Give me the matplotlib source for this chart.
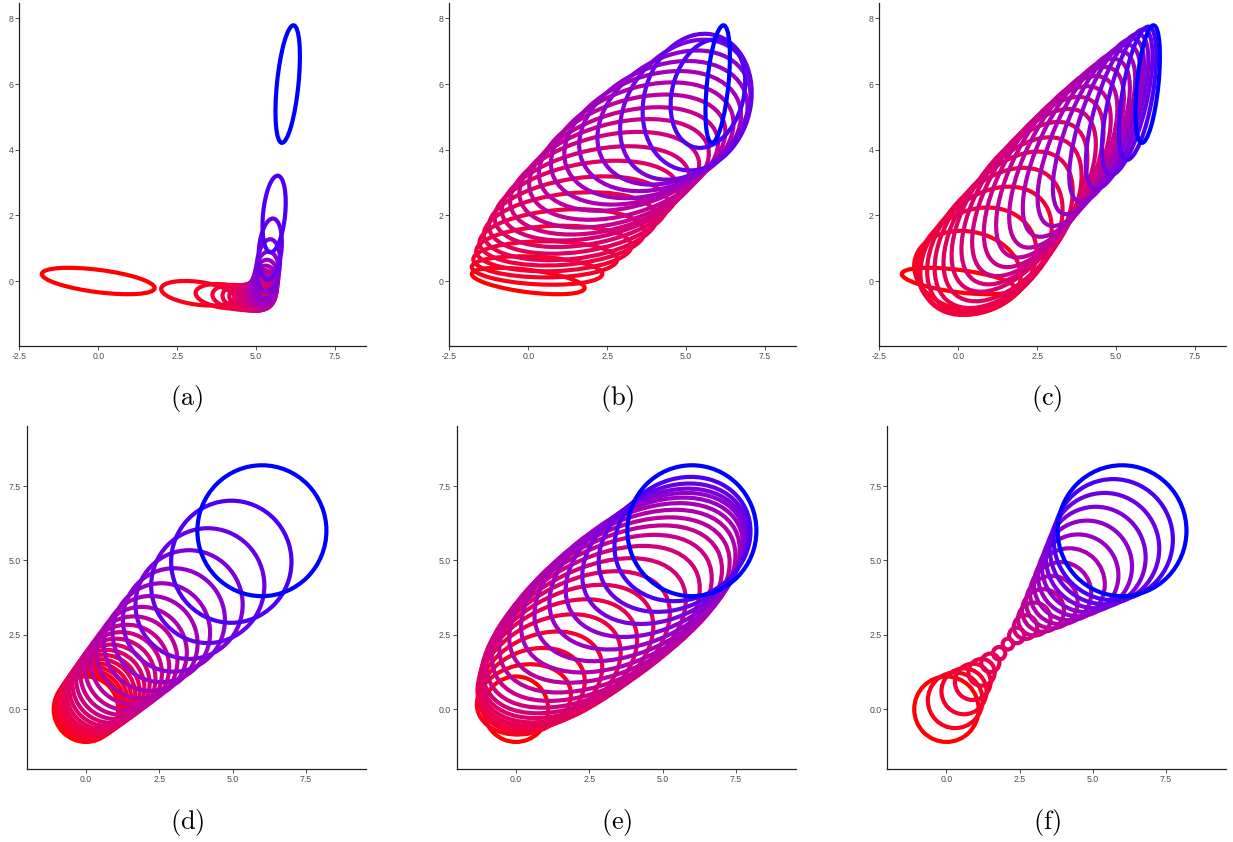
import numpy as np
import matplotlib
matplotlib.use("Agg")
import matplotlib.pyplot as plt
from matplotlib.patches import Ellipse

plt.rcParams['mathtext.fontset'] = 'cm'

# ---------------- data ----------------
# each panel: 21 Gaussians drawn as ellipses (centre, semi-axes, angle in degrees)

# (a)
a_cx = [0.000, 3.158, 4.013, 4.411, 4.642, 4.794, 4.901, 4.982, 5.045, 5.096, 5.140,
        5.177, 5.210, 5.241, 5.272, 5.303, 5.339, 5.383, 5.447, 5.570, 6.000]
a_cy = [0.000, -0.373, -0.464, -0.497, -0.508, -0.507, -0.498, -0.482, -0.460, -0.432, -0.396,
        -0.351, -0.295, -0.222, -0.127, 0.003, 0.189, 0.475, 0.972, 2.040, 6.000]
a_major = [1.800, 1.174, 0.936, 0.801, 0.711, 0.646, 0.597, 0.557, 0.524, 0.497, 0.476,
           0.497, 0.524, 0.557, 0.597, 0.646, 0.711, 0.801, 0.936, 1.174, 1.800]
a_minor = [0.340, 0.349, 0.358, 0.368, 0.378, 0.390, 0.403, 0.418, 0.434, 0.452, 0.469,
           0.452, 0.434, 0.418, 0.403, 0.390, 0.378, 0.368, 0.358, 0.349, 0.340]
a_angle = [-7.0, -7.05, -7.1, -7.2, -7.3, -7.5, -7.7, -8.2, -9.0, -11.5, -51.3,
           88.5, 86.0, 85.2, 84.8, 84.5, 84.3, 84.2, 84.1, 84.06, 84.0]

# (b)
b_cx = [0.00, 0.28, 0.54, 0.81, 1.07, 1.33, 1.59, 1.85, 2.13, 2.42, 2.72,
        3.02, 3.29, 3.61, 3.94, 4.28, 4.62, 4.98, 5.35, 5.69, 6.00]
b_cy = [0.00, 0.32, 0.66, 0.99, 1.33, 1.67, 2.01, 2.35, 2.67, 2.98, 3.28,
        3.58, 3.91, 4.19, 4.46, 4.72, 4.98, 5.22, 5.45, 5.71, 6.00]
b_major = [1.80, 2.07, 2.28, 2.46, 2.62, 2.75, 2.86, 2.95, 3.02, 3.06, 3.08,
           3.08, 3.05, 2.99, 2.90, 2.78, 2.60, 2.38, 2.12, 1.69, 1.80]
b_minor = [0.34, 0.42, 0.55, 0.69, 0.84, 1.00, 1.12, 1.23, 1.32, 1.43, 1.50,
           1.55, 1.60, 1.70, 1.78, 1.82, 1.82, 1.78, 1.68, 1.13, 0.34]
b_angle = [-7.0, -3.0, 0.0, 2.0, 4.0, 6.0, 8.0, 10.0, 12.0, 13.5, 15.0,
           16.0, 17.0, 18.0, 19.5, 22.0, 30.0, 48.0, 72.0, 74.0, 84.0]

# (c)
c_cx = [0.00, 0.29, 0.59, 0.88, 1.16, 1.44, 1.72, 1.94, 2.23, 2.52, 2.82,
        3.12, 3.43, 3.74, 4.06, 4.38, 4.70, 5.03, 5.35, 5.68, 6.00]
c_cy = [0.00, 0.31, 0.61, 0.92, 1.24, 1.56, 1.88, 2.26, 2.57, 2.88, 3.18,
        3.48, 3.77, 4.06, 4.34, 4.62, 4.90, 5.17, 5.45, 5.72, 6.00]
c_major = [1.80, 1.70, 1.95, 2.35, 2.60, 2.80, 2.92, 3.00, 3.08, 3.12, 3.12,
           3.10, 3.06, 2.99, 2.90, 2.78, 2.63, 2.46, 2.28, 2.06, 1.80]
c_minor = [0.34, 1.20, 1.55, 1.62, 1.65, 1.62, 1.58, 1.52, 1.48, 1.43, 1.38,
           1.31, 1.23, 1.14, 1.04, 0.93, 0.82, 0.71, 0.60, 0.48, 0.34]
c_angle = [-7.0, -10.0, 25.0, 40.0, 47.0, 50.0, 52.0, 54.0, 55.5, 57.0, 58.5,
           60.0, 61.5, 63.0, 65.0, 67.0, 70.0, 73.0, 76.0, 80.0, 84.0]

# (d) circles
d_cx = [0.000, 0.078, 0.162, 0.254, 0.353, 0.462, 0.581, 0.712, 0.857, 1.019, 1.200,
        1.404, 1.637, 1.903, 2.211, 2.571, 3.000, 3.517, 4.154, 4.957, 6.000]
d_cy = d_cx
d_r = [1.100, 1.121, 1.144, 1.168, 1.193, 1.220, 1.250, 1.281, 1.315, 1.352, 1.391,
       1.435, 1.483, 1.537, 1.596, 1.663, 1.739, 1.827, 1.930, 2.052, 2.200]

# (e)
e_cx = [0.00, 0.27, 0.55, 0.84, 1.13, 1.43, 1.73, 2.03, 2.33, 2.63, 2.93,
        3.23, 3.53, 3.83, 4.13, 4.44, 4.75, 5.06, 5.37, 5.68, 6.00]
e_cy = [0.00, 0.33, 0.65, 0.96, 1.27, 1.57, 1.87, 2.17, 2.47, 2.77, 3.07,
        3.37, 3.67, 3.97, 4.27, 4.56, 4.85, 5.14, 5.43, 5.72, 6.00]
e_major = [1.10, 1.62, 1.85, 2.20, 2.60, 2.90, 3.20, 3.50, 3.78, 3.98, 4.10,
           4.14, 4.08, 3.96, 3.78, 3.55, 3.27, 2.96, 2.66, 2.38, 2.20]
e_minor = [1.10, 1.16, 1.34, 1.52, 1.70, 1.85, 1.96, 2.05, 2.12, 2.19, 2.24,
           2.27, 2.28, 2.27, 2.24, 2.19, 2.12, 2.06, 2.02, 2.02, 2.20]
e_angle = [0.0, 12.0, 20.0, 24.0, 27.0, 28.0, 29.0, 29.0, 29.0, 29.0, 29.0,
           28.5, 28.0, 28.0, 28.0, 28.0, 28.0, 27.0, 26.0, 25.0, 0.0]

# (f) circles
f_cx = [0.0, 0.3, 0.6, 0.9, 1.2, 1.5, 1.8, 2.1, 2.4, 2.7, 3.0,
        3.3, 3.6, 3.9, 4.2, 4.5, 4.8, 5.1, 5.4, 5.7, 6.0]
f_cy = [0.0, 0.3, 0.6, 0.92, 1.24, 1.56, 1.88, 2.19, 2.48, 2.76, 3.03,
        3.32, 3.6, 3.9, 4.2, 4.5, 4.8, 5.1, 5.4, 5.7, 6.0]
f_r = [1.100, 0.935, 0.770, 0.610, 0.450, 0.310, 0.210, 0.180, 0.260, 0.400, 0.555,
       0.715, 0.880, 1.045, 1.210, 1.375, 1.540, 1.705, 1.870, 2.035, 2.200]

panel_labels = ["(a)", "(b)", "(c)", "(d)", "(e)", "(f)"]
top_xticks = [-2.5, 0.0, 2.5, 5.0, 7.5]
top_xlabels = ["-2.5", "0.0", "2.5", "5.0", "7.5"]
top_yticks = [0, 2, 4, 6, 8]
top_ylabels = ["0", "2", "4", "6", "8"]
bot_ticks = [0.0, 2.5, 5.0, 7.5]
bot_labels = ["0.0", "2.5", "5.0", "7.5"]

# ---------------- colours: ggplot-like Lab gradient red -> blue ----------------
_M = np.array([[0.4124564, 0.3575761, 0.1804375],
               [0.2126729, 0.7151522, 0.0721750],
               [0.0193339, 0.1191920, 0.9503041]])
_W = np.array([0.95047, 1.0, 1.08883])


def _to_lin(c):
    c = np.asarray(c, float)
    return np.where(c <= 0.04045, c / 12.92, ((c + 0.055) / 1.055) ** 2.4)


def _to_srgb(c):
    c = np.clip(c, 0, None)
    return np.where(c <= 0.0031308, 12.92 * c, 1.055 * c ** (1 / 2.4) - 0.055)


def rgb2lab(rgb):
    xyz = _M @ _to_lin(rgb) / _W
    d = 6 / 29
    f = np.where(xyz > d ** 3, np.cbrt(xyz), xyz / (3 * d * d) + 4 / 29)
    return np.array([116 * f[1] - 16, 500 * (f[0] - f[1]), 200 * (f[1] - f[2])])


def lab2rgb(lab):
    L, a, b = lab
    fy = (L + 16) / 116
    f = np.array([fy + a / 500, fy, fy - b / 200])
    d = 6 / 29
    xyz = np.where(f > d, f ** 3, 3 * d * d * (f - 4 / 29)) * _W
    rgb = np.linalg.solve(_M, xyz)
    return tuple(np.clip(_to_srgb(rgb), 0, 1))


LAB_RED = rgb2lab([1, 0, 0])
LAB_BLUE = rgb2lab([0, 0, 1])


def grad(n):
    return [lab2rgb((1 - s) * LAB_RED + s * LAB_BLUE) for s in np.linspace(0, 1, n)]


# ---------------- figure ----------------
W, H = 1233, 842
fig = plt.figure(figsize=(W / 100, H / 100), dpi=100)
fig.patch.set_facecolor("white")

LW = 3.0


def style(ax):
    for s in ("top", "right"):
        ax.spines[s].set_visible(False)
    for s in ("left", "bottom"):
        ax.spines[s].set_linewidth(0.9)
        ax.spines[s].set_color("#222222")
    ax.tick_params(axis="both", length=2.6, width=0.6, color="#333333",
                   labelsize=6.3, labelcolor="#4D4D4D", pad=1.5)
    for lab in ax.get_xticklabels() + ax.get_yticklabels():
        lab.set_fontfamily("Liberation Sans")


def add_axes(x0, x1, y0, y1):
    return fig.add_axes([x0 / W, 1 - y1 / H, (x1 - x0) / W, (y1 - y0) / H])


def draw_ellipses(ax, cx, cy, maj, mnr, ang):
    cols = grad(len(cx))
    for i in range(len(cx)):
        ax.add_patch(Ellipse((cx[i], cy[i]), 2 * maj[i], 2 * mnr[i], angle=ang[i],
                             fill=False, edgecolor=cols[i], linewidth=LW))


def draw_circles(ax, cx, cy, r):
    cols = grad(len(cx))
    for i in range(len(cx)):
        ax.add_patch(Ellipse((cx[i], cy[i]), 2 * r[i], 2 * r[i],
                             fill=False, edgecolor=cols[i], linewidth=LW))


top_x = [(19.3, 366), (449.3, 796), (879.3, 1226)]
bot_x = [(26.7, 366), (456.7, 796), (887.3, 1226)]
top_data = [(a_cx, a_cy, a_major, a_minor, a_angle),
            (b_cx, b_cy, b_major, b_minor, b_angle),
            (c_cx, c_cy, c_major, c_minor, c_angle)]
bot_data = [(d_cx, d_cy, d_r), (e_cx, e_cy, e_major, e_minor, e_angle), (f_cx, f_cy, f_r)]

for (x0, x1), dat in zip(top_x, top_data):
    ax = add_axes(x0, x1, 3, 346)
    draw_ellipses(ax, *dat)
    ax.set_xlim(-2.5, 8.48)
    ax.set_ylim(-1.98, 8.47)
    ax.set_xticks(top_xticks)
    ax.set_xticklabels(top_xlabels)
    ax.set_yticks(top_yticks)
    ax.set_yticklabels(top_ylabels)
    style(ax)

for (x0, x1), dat in zip(bot_x, bot_data):
    ax = add_axes(x0, x1, 426, 769.3)
    if len(dat) == 3:
        draw_circles(ax, *dat)
    else:
        draw_ellipses(ax, *dat)
    ax.set_xlim(-2.02, 9.55)
    ax.set_ylim(-2.02, 9.52)
    ax.set_xticks(bot_ticks)
    ax.set_xticklabels(bot_labels)
    ax.set_yticks(bot_ticks)
    ax.set_yticklabels(bot_labels)
    style(ax)

label_pos = [(187, 398), (617, 398), (1047, 398), (187, 822), (617, 822), (1047, 822)]
for txt, (px, py) in zip(panel_labels, label_pos):
    fig.text(px / W, 1 - py / H, r"$\mathrm{" + txt + "}$", ha="center", va="center",
             fontsize=19, color="black")

fig.savefig("out.png", dpi=100, facecolor="white")
